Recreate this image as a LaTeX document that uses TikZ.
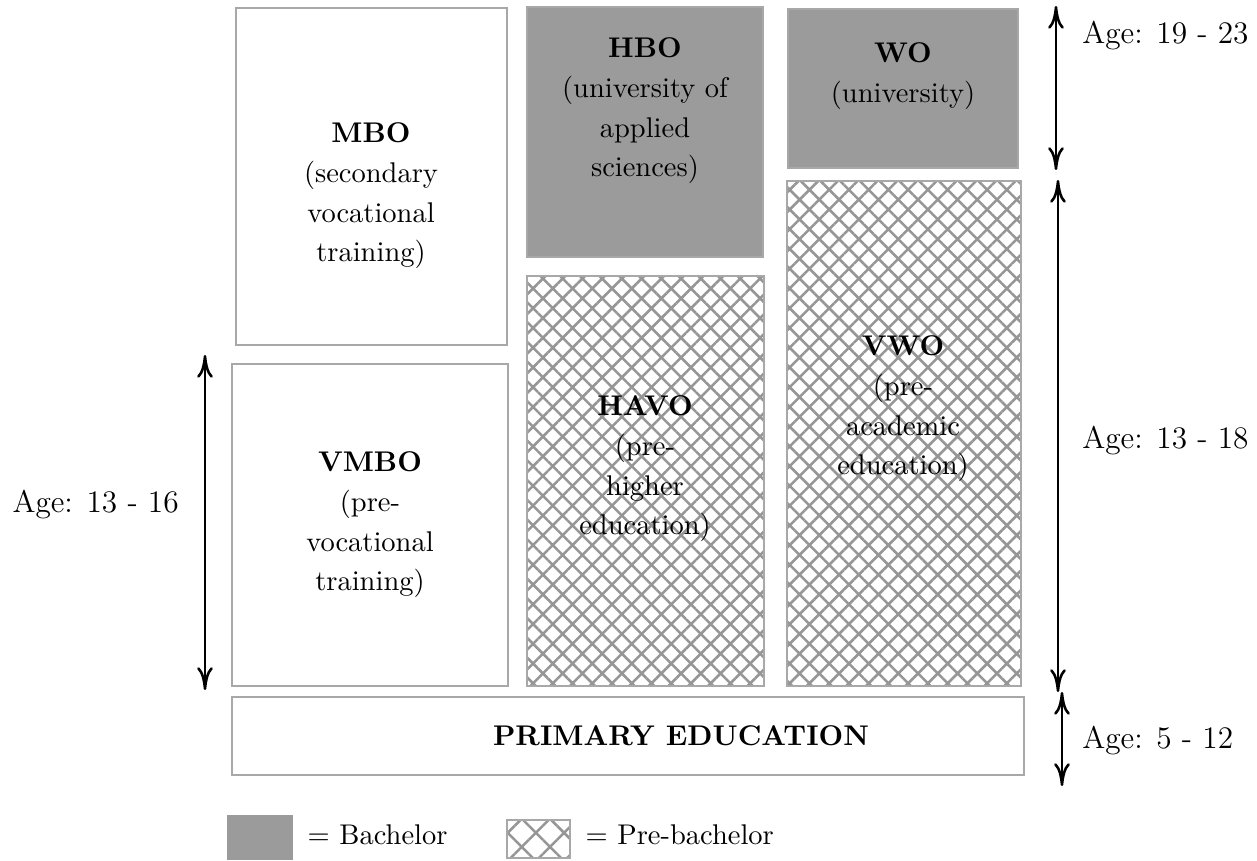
\documentclass[tikz,border=0pt]{standalone}
\usepackage{xcolor}
\usetikzlibrary{positioning,patterns.meta,arrows.meta}
\definecolor{bach}{RGB}{155,155,155}
\definecolor{edge}{RGB}{168,168,168}
\definecolor{hatch}{RGB}{150,150,150}
\tikzset{
  school/.style={draw=edge,line width=0.6pt},
  bachbox/.style={school,fill=bach},
  prebox/.style={school,pattern={Hatch[angle=45,distance=4.9pt,line width=0.9pt]},pattern color=hatch},
  keybox/.style={school,pattern={Hatch[angle=45,distance=7pt,line width=0.9pt]},pattern color=hatch},
  boxtext/.style={align=center,font=\fontsize{10}{13.9}\selectfont},
  agetext/.style={font=\fontsize{11}{13}\selectfont},
  agearrow/.style={{To[length=8pt,width=5.5pt]}-{To[length=8pt,width=5.5pt]},line width=0.9pt}
}

\begin{document}
\begin{tikzpicture}[x=0.351pt,y=0.351pt]
\useasboundingbox (0,0) rectangle (1257,861);
% Secondary
\draw[school] (236,516) rectangle (507,853); % mbo box
\draw[school] (232,175) rectangle (508,497); % vmbo box
\draw[prebox] (527,175) rectangle (764,585); % havo box
\draw[prebox] (787,175) rectangle (1021,680); % vwo box
% Higher
\draw[bachbox] (527,604) rectangle (763,854); % hbo box
\draw[bachbox] (788,693) rectangle (1018,852); % wo box
% Primary
\draw[school] (232,86) rectangle (1024,164); % primary box
% Texts
\node[boxtext] (mbo) at (371,665) {\textbf{MBO}\\(secondary\\vocational\\training)};
\node[boxtext] (vmbo) at (370,336) {\textbf{VMBO}\\(pre-\\vocational\\training)};
\node[boxtext] (havo) at (645,392) {\textbf{HAVO}\\(pre-\\higher\\education)};
\node[boxtext] (vwo) at (903,452) {\textbf{VWO}\\(pre-\\academic\\education)};
\node[boxtext] (hbo) at (645,750) {\textbf{HBO}\\(university of\\applied\\sciences)};
\node[boxtext] (wo) at (903,785) {\textbf{WO}\\(university)};
\node (primary) at (681,125) {\textbf{PRIMARY EDUCATION}};
% Ages
\coordinate (hitop) at (1056,855); % higher top
\coordinate (hibot) at (1056,691); % higher bottom
\coordinate (setop) at (1058,681); % secondary top
\coordinate (sebot) at (1058,169); % secondary bottom
\coordinate (prtop) at (1062,169); % primary top
\coordinate (prbot) at (1062,75); % primary bottom
\coordinate (vmtop) at (205,506); % vmbo top
\coordinate (vmbot) at (205,171); % vmbo bottom
\draw[agearrow] (hitop) -- (hibot);
\draw[agearrow] (setop) -- (sebot);
\draw[agearrow] (prtop) -- (prbot);
\draw[agearrow] (vmtop) -- (vmbot);
\node[agetext,right = 2mm of {(1056,825)}] (agehi) {Age: 19 - 23};
\node[agetext,right = 2mm of {(1056,420)}] (agese) {Age: 13 - 18};
\node[agetext,right = 2mm of {(1056,120)}] (agepr) {Age: 5 - 12};
\node[agetext,left = 2mm of {(205,356)}] (agevm) {Age: 13 - 16};
% Legend
\draw[bachbox,draw=bach] (228,2) rectangle (292,45); % bachelor key
\node[right = 0.7mm of {(292,26)}] (bachkey) {$=$ Bachelor};
\draw[keybox] (507,3) rectangle (570,41); % pre-bachelor key
\node[right = 0.7mm of {(570,26)}] (prekey) {$=$ Pre-bachelor};
\end{tikzpicture}
\end{document}
